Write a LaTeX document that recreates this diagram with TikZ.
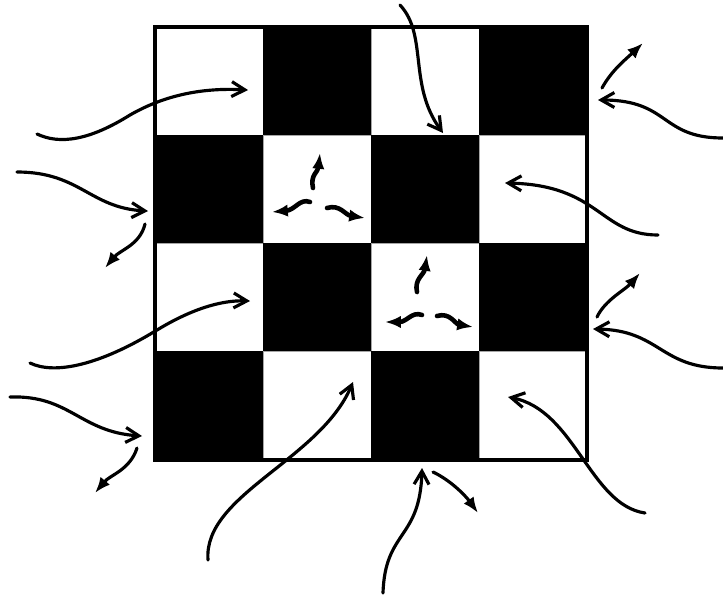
\documentclass[tikz,border=0pt]{standalone}
\usepackage{tikz}
\usetikzlibrary{
  arrows.meta,   % Straight Barb / Latex arrow tips
  calc
}
\tikzset{
  photon in/.style={
    -{Straight Barb[length=7.5pt,width=8.5pt,line width=1.8pt]},
    line width=1.8pt,
    line cap=round
  },
  photon out/.style={
    -{Latex[length=9pt,width=7pt]},
    line width=1.8pt,
    line cap=round
  },
  photon inner/.style={
    -{Latex[length=9pt,width=7pt]},
    line width=2.6pt,
    line cap=round
  },
  board frame/.style={
    line width=2.4pt
  }
}

\begin{document}
\begin{tikzpicture}[x=0.02cm, y=-0.02cm]
  \useasboundingbox (0,0) rectangle (723,599);

  % --- checkerboard: 4 x 4, cell 108 px, top-left white ---
  \begin{scope}[shift={(155,27)}]
    \foreach \i in {0,...,3} {
      \foreach \j in {0,...,3} {
        \pgfmathtruncatemacro{\parity}{mod(\i+\j,2)}
        \ifnum\parity=1
          \fill[black] (\j*108,\i*108) rectangle ++(108,108);
        \else
          \draw[black!35, line width=0.4pt] (\j*108,\i*108) rectangle ++(108,108);
        \fi
      }
    }
    \draw[board frame] (0,0) rectangle (432,433);
  \end{scope}

  % --- incoming photons, left side ---
  \draw[photon in] (37,134) .. controls (60,145) and (90,140) .. (130,115)
                            .. controls (170,92) and (210,88) .. (248,90);
  \draw[photon in] (17,172) .. controls (80,172) and (90,208) .. (148,211);
  \draw[photon in] (30,363) .. controls (55,375) and (100,365) .. (157,330)
                            .. controls (190,310) and (220,300) .. (250,301);
  \draw[photon in] (10,397) .. controls (70,395) and (80,432) .. (142,436);

  % --- emitted photons, left side ---
  \draw[photon out] (145,224) .. controls (140,245) and (120,250) .. (105,268);
  \draw[photon out] (137,448) .. controls (130,470) and (110,475) .. (95,493);

  % --- top ---
  \draw[photon in] (400,5) .. controls (428,35) and (408,85) .. (443,133);

  % --- right side ---
  \draw[photon out] (602,88) .. controls (612,70) and (625,60) .. (643,43);
  \draw[photon in] (723,138) .. controls (660,138) and (670,100) .. (598,100);
  \draw[photon in] (658,235) .. controls (600,235) and (600,185) .. (505,183);
  \draw[photon out] (597,317) .. controls (605,300) and (625,290) .. (640,273);
  \draw[photon in] (723,368) .. controls (660,368) and (660,330) .. (593,329);
  \draw[photon in] (645,513) .. controls (590,505) and (575,410) .. (508,397);

  % --- bottom ---
  \draw[photon in] (208,560) .. controls (203,495) and (320,460) .. (353,382);
  \draw[photon in] (383,593) .. controls (385,530) and (420,540) .. (422,468);
  \draw[photon out] (433,472) .. controls (450,480) and (465,495) .. (478,513);

  % --- emission inside the white cells ---
  \draw[photon inner] (313,188) .. controls (310,175) and (318,172) .. (320,153);
  \draw[photon inner] (310,202) .. controls (300,198) and (295,210) .. (272,212);
  \draw[photon inner] (327,208) .. controls (340,204) and (345,215) .. (365,218);

  \draw[photon inner] (417,292) .. controls (414,279) and (424,275) .. (427,255);
  \draw[photon inner] (422,315) .. controls (412,311) and (407,322) .. (385,322);
  \draw[photon inner] (437,316) .. controls (450,312) and (455,324) .. (473,327);
\end{tikzpicture}
\end{document}
